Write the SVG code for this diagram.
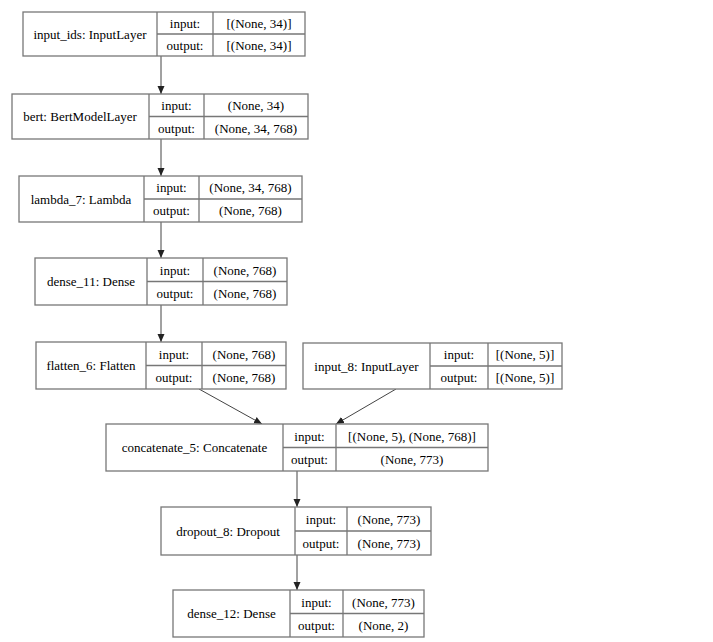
<svg xmlns="http://www.w3.org/2000/svg" width="713" height="642" viewBox="0 0 713 642">
<defs>
<marker id="ah" markerWidth="8" markerHeight="8" refX="8" refY="4" orient="auto" markerUnits="userSpaceOnUse">
<path d="M0,0.5 L8,4 L0,7.5 Z" fill="#222"/>
</marker>
<style>
.b{fill:#fff;stroke:#777;stroke-width:1.3}
.l{stroke:#777;stroke-width:1.3;fill:none}
text{font-family:"Liberation Serif","Times New Roman",serif;font-size:13px;fill:#000;text-anchor:middle;dominant-baseline:central}
.e{stroke:#444;stroke-width:1;fill:none;marker-end:url(#ah)}
</style>
</defs>
<rect width="713" height="642" fill="#fff"/>
<g id="edges">
<line class="e" x1="161" y1="56" x2="161" y2="94"/>
<line class="e" x1="161" y1="139" x2="161" y2="176"/>
<line class="e" x1="161" y1="222" x2="161" y2="258"/>
<line class="e" x1="161" y1="305" x2="161" y2="342"/>
<line class="e" x1="199" y1="389" x2="262" y2="424"/>
<line class="e" x1="396" y1="389" x2="336" y2="424"/>
<line class="e" x1="297" y1="471" x2="297" y2="507"/>
<line class="e" x1="297" y1="555" x2="297" y2="590"/>
</g>
<g id="input_ids">
<rect class="b" x="23" y="12" width="282" height="44"/>
<path class="l" d="M157,12V56M213,12V56M157,34H305"/>
<text x="90" y="34">input_ids: InputLayer</text>
<text x="185" y="23">input:</text>
<text x="185" y="45">output:</text>
<text x="259" y="23">[(None, 34)]</text>
<text x="259" y="45">[(None, 34)]</text>
</g>
<g id="bert">
<rect class="b" x="12" y="94" width="296" height="45"/>
<path class="l" d="M149,94V139M204,94V139M149,116.5H308"/>
<text x="80" y="116.5">bert: BertModelLayer</text>
<text x="176.5" y="105">input:</text>
<text x="176.5" y="128">output:</text>
<text x="256" y="105">(None, 34)</text>
<text x="256" y="128">(None, 34, 768)</text>
</g>
<g id="lambda_7">
<rect class="b" x="19" y="176" width="283" height="46"/>
<path class="l" d="M144,176V222M199,176V222M144,199H302"/>
<text x="81" y="199">lambda_7: Lambda</text>
<text x="171.5" y="187.5">input:</text>
<text x="171.5" y="210.5">output:</text>
<text x="250.5" y="187.5">(None, 34, 768)</text>
<text x="250.5" y="210.5">(None, 768)</text>
</g>
<g id="dense_11">
<rect class="b" x="35" y="258" width="252" height="47"/>
<path class="l" d="M147,258V305M203,258V305M147,281.5H287"/>
<text x="91" y="281.5">dense_11: Dense</text>
<text x="175" y="270">input:</text>
<text x="175" y="293">output:</text>
<text x="245" y="270">(None, 768)</text>
<text x="245" y="293">(None, 768)</text>
</g>
<g id="flatten_6">
<rect class="b" x="36" y="342" width="250" height="47"/>
<path class="l" d="M146,342V389M202,342V389M146,365.5H286"/>
<text x="91" y="365.5">flatten_6: Flatten</text>
<text x="174" y="354">input:</text>
<text x="174" y="377">output:</text>
<text x="244" y="354">(None, 768)</text>
<text x="244" y="377">(None, 768)</text>
</g>
<g id="input_8">
<rect class="b" x="303" y="343" width="259" height="46"/>
<path class="l" d="M430,343V389M488,343V389M430,366H562"/>
<text x="366.5" y="366">input_8: InputLayer</text>
<text x="459" y="354.5">input:</text>
<text x="459" y="377.5">output:</text>
<text x="525" y="354.5">[(None, 5)]</text>
<text x="525" y="377.5">[(None, 5)]</text>
</g>
<g id="concatenate_5">
<rect class="b" x="106" y="424" width="382" height="47"/>
<path class="l" d="M283,424V471M336,424V471M283,447.5H488"/>
<text x="194.5" y="447.5">concatenate_5: Concatenate</text>
<text x="309.5" y="436">input:</text>
<text x="309.5" y="459">output:</text>
<text x="412" y="436">[(None, 5), (None, 768)]</text>
<text x="412" y="459">(None, 773)</text>
</g>
<g id="dropout_8">
<rect class="b" x="161" y="507" width="270" height="48"/>
<path class="l" d="M295,507V555M347,507V555M295,531H431"/>
<text x="228" y="531">dropout_8: Dropout</text>
<text x="321" y="519">input:</text>
<text x="321" y="543">output:</text>
<text x="389" y="519">(None, 773)</text>
<text x="389" y="543">(None, 773)</text>
</g>
<g id="dense_12">
<rect class="b" x="173" y="590" width="251" height="47"/>
<path class="l" d="M290,590V637M343,590V637M290,613.5H424"/>
<text x="231.5" y="613.5">dense_12: Dense</text>
<text x="316.5" y="602">input:</text>
<text x="316.5" y="625">output:</text>
<text x="383.5" y="602">(None, 773)</text>
<text x="383.5" y="625">(None, 2)</text>
</g>
</svg>
